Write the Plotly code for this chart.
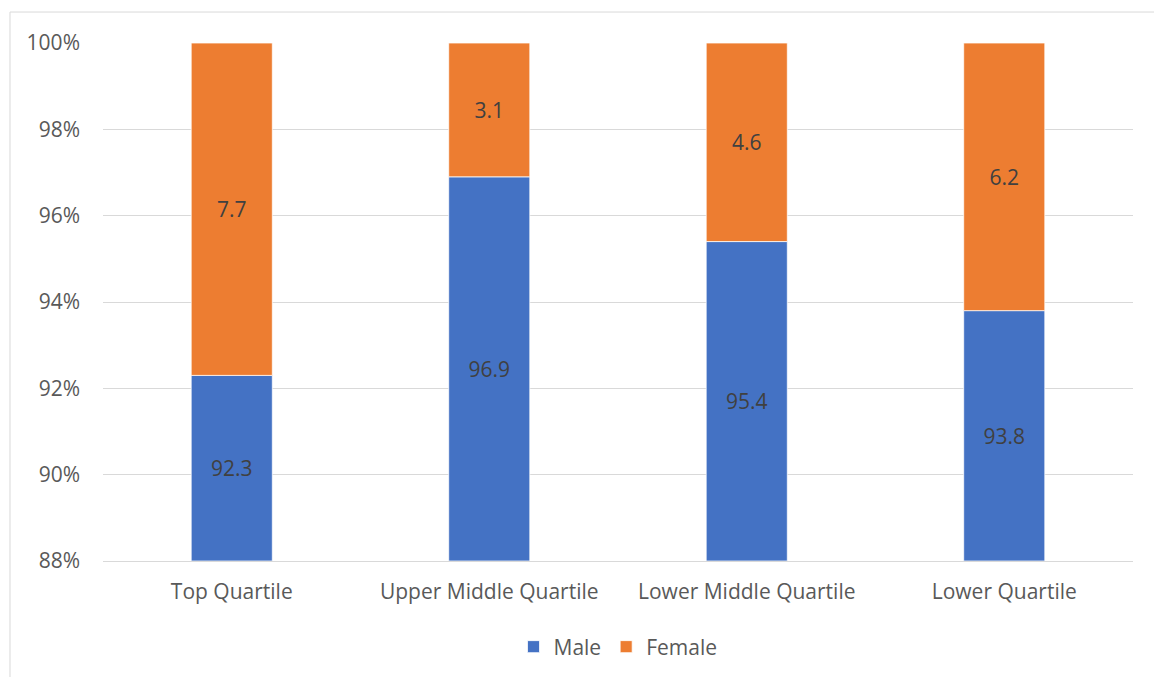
import plotly.graph_objects as go

categories = ["Top Quartile", "Upper Middle Quartile", "Lower Middle Quartile", "Lower Quartile"]
male = [92.3, 96.9, 95.4, 93.8]
female = [7.7, 3.1, 4.6, 6.2]
y_ticks = [88, 90, 92, 94, 96, 98, 100]
axis_min = 88

FONT = "Open Sans"
FS = 21
fig = go.Figure()
fig.add_trace(go.Bar(
    name="Male", x=categories, y=[m - axis_min for m in male], base=axis_min,
    marker=dict(color="#4472C4", line=dict(color="white", width=0.75)),
    text=[f"{v:.1f}" for v in male], textposition="inside", insidetextanchor="middle",
    textfont=dict(family=FONT, size=FS, color="#404040"), textangle=0,
    hovertext=[f"{v:.1f}" for v in male], hoverinfo="x+text+name",
))
fig.add_trace(go.Bar(
    name="Female", x=categories, y=female, base=male,
    marker=dict(color="#ED7D31", line=dict(color="white", width=0.75)),
    text=[f"{v:.1f}" for v in female], textposition="inside", insidetextanchor="middle",
    textfont=dict(family=FONT, size=FS, color="#404040"), textangle=0,
))

fig.update_layout(
    barmode="overlay",
    bargap=0.685,
    width=1154, height=677,
    margin=dict(l=103, r=21, t=43, b=116, autoexpand=False),
    paper_bgcolor="white", plot_bgcolor="white",
    font=dict(family=FONT, size=FS, color="#595959"),
    uniformtext=dict(mode=False),
    legend=dict(orientation="h", x=0.5, xanchor="center", y=-0.166, yanchor="middle",
                font=dict(family=FONT, size=FS, color="#595959"), traceorder="normal",
                itemwidth=30),
    showlegend=True,
)
fig.update_yaxes(
    range=[88, 100], tickvals=y_ticks, ticktext=[f"{v}%" for v in y_ticks],
    showgrid=True, gridcolor="#D9D9D9", gridwidth=1, zeroline=False,
    showline=False, ticks="", ticklabelstandoff=22,
    tickfont=dict(family=FONT, size=FS, color="#595959"),
)
fig.update_xaxes(
    showgrid=False, showline=True, linecolor="#D9D9D9", linewidth=1,
    ticks="", ticklabelstandoff=12,
    tickfont=dict(family=FONT, size=FS, color="#595959"),
)
fig.add_shape(type="rect", xref="paper", yref="paper",
              x0=-0.0903, x1=1.2, y0=-0.5, y1=1.0598,
              line=dict(color="#D9D9D9", width=1), layer="below")
fig.write_html("out.html")
